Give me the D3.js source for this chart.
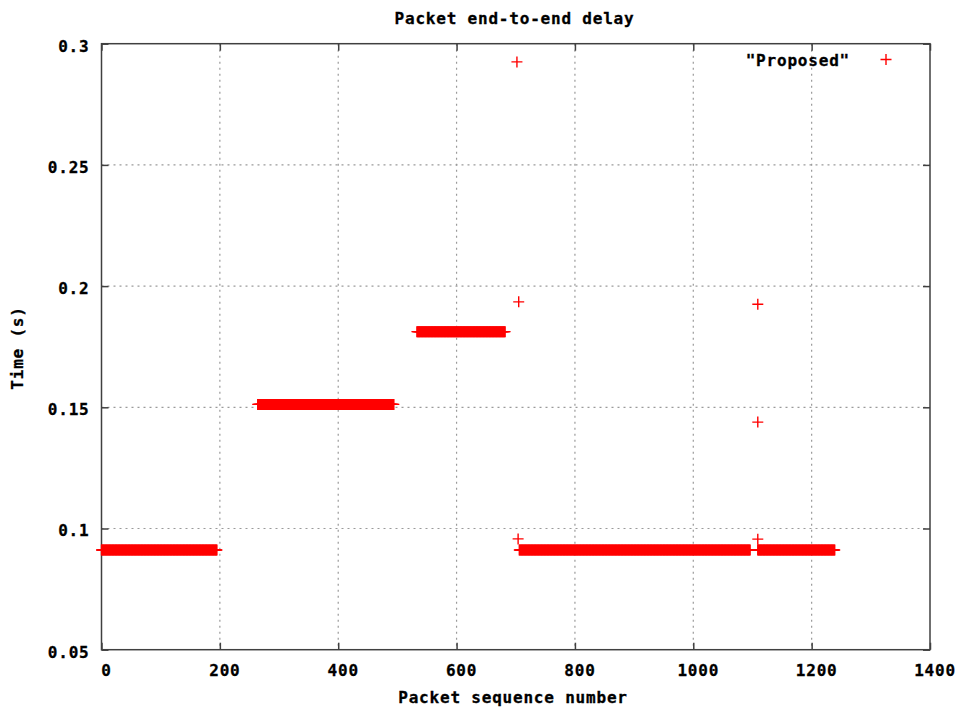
<!DOCTYPE html>
<html>
<head>
<meta charset="utf-8">
<script src="https://cdn.jsdelivr.net/npm/d3@7"></script>
<style>
  html, body { margin: 0; padding: 0; background: #fff; }
  text { font-family: "DejaVu Sans Mono", monospace; font-weight: bold; font-size: 16px; letter-spacing: 0.8px; fill: #000; stroke: #000; stroke-width: 0.3px; }
</style>
</head>
<body>
<svg id="chart" width="959" height="711"></svg>
<script>
// ---- data ----
const xTicks = [0, 200, 400, 600, 800, 1000, 1200, 1400];
const yTicks = [0.05, 0.1, 0.15, 0.2, 0.25, 0.3];
const yTickLabels = ["0.05", "0.1", "0.15", "0.2", "0.25", "0.3"];
// runs of consecutive packets with (visually) constant delay: start, end, delay
const runStart = [0, 264, 533, 706, 1109];
const runEnd   = [195, 494, 682, 1096, 1239];
const runDelay = [0.0911, 0.1512, 0.1812, 0.0911, 0.0911];
// isolated packets
const outlierSeq   = [702, 705, 704, 1109, 1109, 1109];
const outlierDelay = [0.2925, 0.1935, 0.0957, 0.1925, 0.1439, 0.0956];
const seriesName = '"Proposed"';
const titleText = "Packet end-to-end delay";
const xLabel = "Packet sequence number";
const yLabel = "Time (s)";

(function () {
// build point table
const points = [];
runStart.forEach((s, i) => {
  for (let k = s; k <= runEnd[i]; k++) points.push({ seq: k, delay: runDelay[i] });
});
outlierSeq.forEach((s, i) => points.push({ seq: s, delay: outlierDelay[i] }));

// ---- layout ----
const svg = d3.select("#chart");
const pL = 101.5, pR = 930, pT = 43.7, pB = 649.7;
const x = d3.scaleLinear().domain([0, 1400]).range([pL, pR]);
const y = d3.scaleLinear().domain([0.05, 0.3]).range([pB, pT]);

svg.append("rect").attr("width", 959).attr("height", 711).attr("fill", "#fff");

// grid
const grid = svg.append("g").attr("stroke", "#9a9a9a").attr("stroke-width", 1.2)
  .attr("stroke-dasharray", "2,4").attr("fill", "none");
xTicks.slice(1, -1).forEach(t => {
  grid.append("line").attr("x1", x(t)).attr("x2", x(t)).attr("y1", pT).attr("y2", pB);
});
yTicks.slice(1, -1).forEach(t => {
  grid.append("line").attr("x1", pL).attr("x2", pR).attr("y1", y(t)).attr("y2", y(t));
});

// axes (inward ticks, mirrored)
const tickLen = 7;
const axB = svg.append("g").attr("transform", `translate(0,${pB})`)
  .call(d3.axisBottom(x).tickValues(xTicks).tickSizeInner(-tickLen).tickSizeOuter(0).tickFormat(d3.format("d")));
const axT = svg.append("g").attr("transform", `translate(0,${pT})`)
  .call(d3.axisTop(x).tickValues(xTicks).tickSizeInner(-tickLen).tickSizeOuter(0).tickFormat(""));
const axL = svg.append("g").attr("transform", `translate(${pL},0)`)
  .call(d3.axisLeft(y).tickValues(yTicks).tickSizeInner(-tickLen).tickSizeOuter(0)
    .tickFormat((d, i) => yTickLabels[i]));
const axR = svg.append("g").attr("transform", `translate(${pR},0)`)
  .call(d3.axisRight(y).tickValues(yTicks).tickSizeInner(-tickLen).tickSizeOuter(0).tickFormat(""));

[axB, axT, axL, axR].forEach(a => {
  a.select(".domain").remove();
  a.selectAll(".tick line").attr("stroke", "#404040").attr("stroke-width", 1.5);
  a.attr("font-family", null).attr("font-size", null);
});
axB.selectAll(".tick text").attr("dy", null).attr("y", 26).attr("dx", 4.5);
axL.selectAll(".tick text").attr("dy", null).attr("x", -12).attr("y", 7.3);

// border
svg.append("rect").attr("x", pL).attr("y", pT).attr("width", pR - pL).attr("height", pB - pT)
  .attr("fill", "none").attr("stroke", "#404040").attr("stroke-width", 1.5);

// points as "+" markers
const plus = (cx, cy, r) => `M${cx - r},${cy}h${2 * r}M${cx},${cy - r}v${2 * r}`;
svg.append("g").selectAll("path").data(points).join("path")
  .attr("d", d => plus(x(d.seq), y(d.delay), 5.5))
  .attr("stroke", "#ff0000").attr("stroke-width", 1.4).attr("fill", "none");

// legend
svg.append("text").attr("x", 850).attr("y", 65.8).attr("text-anchor", "end").text(seriesName);
svg.append("path").attr("d", plus(886, 59.5, 5.5)).attr("stroke", "#ff0000").attr("stroke-width", 1.4);

// titles
svg.append("text").attr("x", 514.5).attr("y", 23.5).attr("text-anchor", "middle").text(titleText);
svg.append("text").attr("x", 513).attr("y", 703.4).attr("text-anchor", "middle").text(xLabel);
svg.append("text").attr("transform", "translate(23,348) rotate(-90)").attr("text-anchor", "middle").text(yLabel);
})();
</script>
</body>
</html>
